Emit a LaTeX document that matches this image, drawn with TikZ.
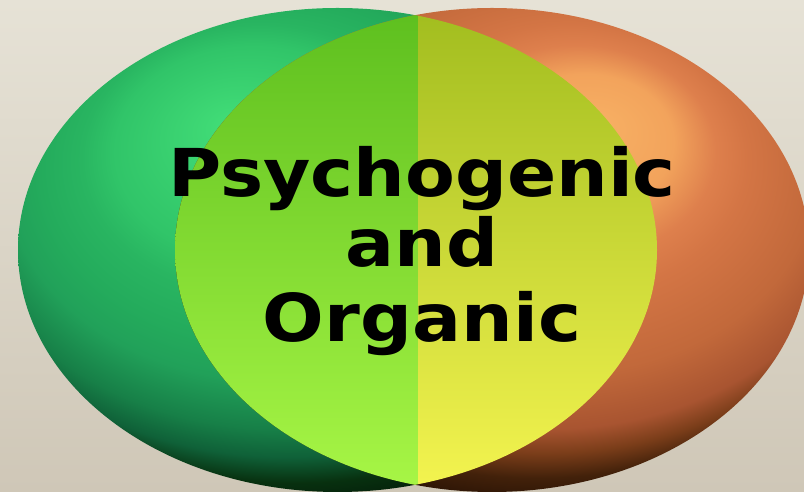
\documentclass[tikz,border=0pt]{standalone}
\usepackage{fontspec}
\newfontfamily\titlefont{DejaVu Sans}[FakeStretch=1.1]

% Colours
\definecolor{papertop}{HTML}{E6E2D6}
\definecolor{paperbot}{HTML}{CFC7B7}
\definecolor{lensAtop}{HTML}{5CBE1E}
\definecolor{lensAmid}{HTML}{8EEC32}
\definecolor{lensAbot}{HTML}{A8F646}
\definecolor{lensBtop}{HTML}{A0BC1E}
\definecolor{lensBmid}{HTML}{C8F032}
\definecolor{lensBbot}{HTML}{F4F450}

% Lit spheres, light from above towards the middle
\pgfdeclareradialshading{greenball}{\pgfpoint{-8.4bp}{13bp}}{%
    rgb(0bp)=(0.26,0.87,0.47);
    rgb(11bp)=(0.19,0.77,0.41);
    rgb(14bp)=(0.16,0.71,0.38);
    rgb(18bp)=(0.14,0.67,0.36);
    rgb(21bp)=(0.13,0.63,0.35);
    rgb(25bp)=(0.09,0.50,0.28);
    rgb(27.3bp)=(0.06,0.38,0.22);
    rgb(29.4bp)=(0.03,0.19,0.06);
    rgb(32bp)=(0.01,0.09,0.03);
    rgb(50bp)=(0.01,0.06,0.02)}
\pgfdeclareradialshading{orangeball}{\pgfpoint{8.5bp}{13bp}}{%
    rgb(0bp)=(0.97,0.69,0.39);
    rgb(7bp)=(0.95,0.64,0.36);
    rgb(11bp)=(0.87,0.50,0.30);
    rgb(14bp)=(0.83,0.46,0.27);
    rgb(20.5bp)=(0.76,0.41,0.23);
    rgb(25bp)=(0.66,0.33,0.19);
    rgb(27bp)=(0.48,0.24,0.10);
    rgb(29bp)=(0.26,0.13,0.04);
    rgb(32bp)=(0.12,0.05,0.01);
    rgb(50bp)=(0.06,0.02,0)}

\tikzset{title/.style={font=\titlefont\bfseries\fontsize{33}{36}\selectfont, anchor=base, inner sep=0pt}}

\begin{document}
\begin{tikzpicture}[x=0.5pt, y=0.5pt]
        \clip (0,0) rectangle (804,492);

        % Background
        \shade[top color=papertop, bottom color=paperbot] (0,0) rectangle (804,492);

        % Left ellipse
        \shade[shading=greenball] (337.5,242) ellipse [x radius=319.5, y radius=242];

        % Right ellipse
        \shade[shading=orangeball] (492,242) ellipse [x radius=317, y radius=242];

        % Overlap, split down the middle
        \begin{scope}
            \clip (337.5,242) ellipse [x radius=319.5, y radius=242];
            \clip (492,242) ellipse [x radius=317, y radius=242];
            \shade[top color=lensAtop, middle color=lensAmid, bottom color=lensAbot] (0,0) rectangle (418,492);
            \shade[top color=lensBtop, middle color=lensBmid, bottom color=lensBbot] (418,0) rectangle (804,492);
        \end{scope}

        % Labels
        \node[title] (psy) at (422,295) {Psychogenic};
        \node[title] (and) at (422,225) {and};
        \node[title] (org) at (422,150) {Organic};
\end{tikzpicture}
\end{document}
